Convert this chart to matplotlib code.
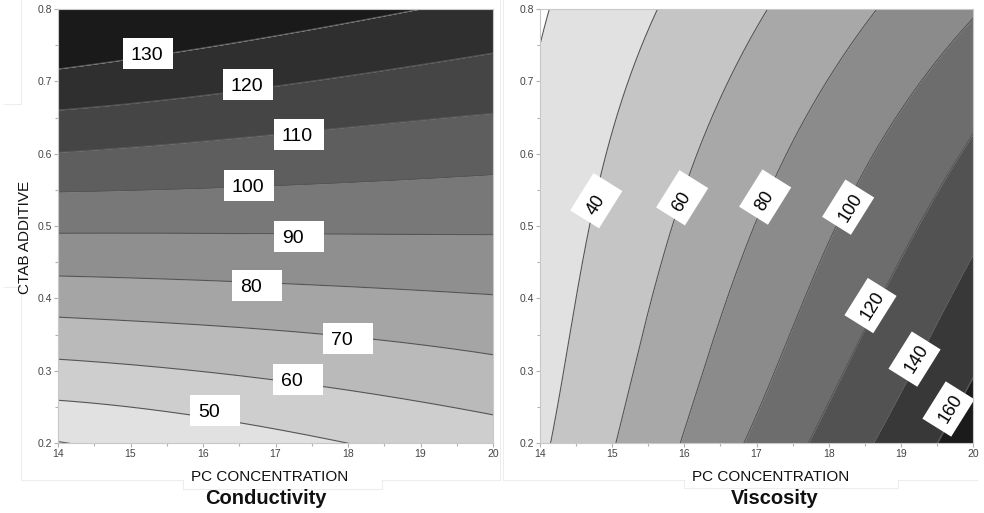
import numpy as np
import matplotlib
matplotlib.use("Agg")
import matplotlib.pyplot as plt
from matplotlib import transforms as mtransforms
from matplotlib.patches import Rectangle
from matplotlib.lines import Line2D
from matplotlib.ticker import MultipleLocator, FormatStrFormatter

plt.rcParams['font.family'] = ['Liberation Sans', 'DejaVu Sans']

# ---------------- data ----------------
# Conductivity: contour level lines, CTAB value at each PC concentration node
pc_nodes = [14, 15, 16, 17, 18, 19, 20]
cond_levels = [40, 50, 60, 70, 80, 90, 100, 110, 120, 130]
cond_40 = [0.202, 0.186, 0.168, 0.148, 0.126, 0.102, 0.076]
cond_50 = [0.259, 0.250, 0.236, 0.219, 0.200, 0.178, 0.155]
cond_60 = [0.316, 0.308, 0.299, 0.287, 0.273, 0.257, 0.239]
cond_70 = [0.374, 0.369, 0.363, 0.356, 0.347, 0.336, 0.322]
cond_80 = [0.431, 0.428, 0.425, 0.421, 0.416, 0.411, 0.405]
cond_90 = [0.490, 0.490, 0.490, 0.489, 0.489, 0.488, 0.488]
cond_100 = [0.547, 0.549, 0.552, 0.556, 0.560, 0.565, 0.571]
cond_110 = [0.602, 0.609, 0.617, 0.627, 0.637, 0.646, 0.656]
cond_120 = [0.660, 0.670, 0.680, 0.693, 0.708, 0.723, 0.739]
cond_130 = [0.717, 0.731, 0.746, 0.763, 0.781, 0.800, 0.820]
cond_lines = [cond_40, cond_50, cond_60, cond_70, cond_80, cond_90,
              cond_100, cond_110, cond_120, cond_130]
cond_label_levels = [50, 60, 70, 80, 90, 100, 110, 120, 130]

# Viscosity: contour level lines, PC concentration at each CTAB node
ctab_nodes = [0.2, 0.3, 0.4, 0.5, 0.6, 0.7, 0.8]
visc_levels = [20, 40, 60, 80, 100, 120, 140, 160]
visc_20 = [13.30, 13.38, 13.48, 13.60, 13.72, 13.86, 14.14]
visc_40 = [14.15, 14.32, 14.51, 14.68, 14.92, 15.22, 15.63]
visc_60 = [15.05, 15.30, 15.55, 15.83, 16.17, 16.62, 17.15]
visc_80 = [15.94, 16.27, 16.60, 16.96, 17.40, 18.00, 18.66]
visc_100 = [16.83, 17.25, 17.67, 18.11, 18.62, 19.28, 20.12]
visc_120 = [17.72, 18.22, 18.70, 19.26, 19.82, 20.50, 21.30]
visc_140 = [18.62, 19.15, 19.68, 20.22, 20.80, 21.50, 22.30]
visc_160 = [19.51, 20.04, 20.60, 21.20, 21.80, 22.50, 23.30]
visc_lines = [visc_20, visc_40, visc_60, visc_80, visc_100, visc_120,
              visc_140, visc_160]
visc_label_levels = [40, 60, 80, 100, 120, 140, 160]

x_ticks = [14, 15, 16, 17, 18, 19, 20]
y_ticks = [0.2, 0.3, 0.4, 0.5, 0.6, 0.7, 0.8]

# ---------------- styling ----------------
cond_colors = ['#f0f0f0', '#e1e1e1', '#cecece', '#bababa', '#a5a5a5', '#8f8f8f',
               '#787878', '#5e5e5e', '#454545', '#2f2f2f', '#1a1a1a']
visc_colors = ['#ffffff', '#e1e1e1', '#c5c5c5', '#a8a8a8', '#8b8b8b', '#6d6d6d',
               '#525252', '#383838', '#1b1b1b']
line_color = '#555555'

# label box anchor positions (layout)
cond_lab_x = [16.17, 17.31, 18.00, 16.75, 17.32, 16.63, 17.32, 16.62, 15.24]
cond_lab_y = [0.245, 0.288, 0.345, 0.418, 0.485, 0.556, 0.627, 0.695, 0.738]
visc_lab_x = [14.78, 15.97, 17.12, 18.27, 18.58, 19.19, 19.66]
visc_lab_y = [0.535, 0.539, 0.540, 0.526, 0.390, 0.316, 0.247]

W, H, DPI = 984, 513, 100
fig = plt.figure(figsize=(W / DPI, H / DPI), dpi=DPI)
fig.patch.set_facecolor('white')


def px_axes(x0, y0, x1, y1):
    return fig.add_axes([x0 / W, 1 - y1 / H, (x1 - x0) / W, (y1 - y0) / H])


axL = px_axes(58, 9, 493, 443)
axR = px_axes(540, 9, 973, 443)


def smooth(nodes, vals, fine):
    c = np.polyfit(nodes, vals, 3)
    return np.polyval(c, fine)


# ---- conductivity: bands between y(x) curves
xf = np.linspace(13.9, 20.1, 300)
curves = [smooth(pc_nodes, v, xf) for v in cond_lines]
bounds = [np.full_like(xf, -1.0)] + curves + [np.full_like(xf, 2.0)]
for i in range(len(bounds) - 1):
    axL.fill_between(xf, bounds[i], bounds[i + 1], color=cond_colors[i],
                     linewidth=0, zorder=1)
for c in curves:
    axL.plot(xf, c, color=line_color, lw=0.8, zorder=2)

# ---- viscosity: bands between x(y) curves
yf = np.linspace(0.19, 0.81, 300)
vcurves = [smooth(ctab_nodes, v, yf) for v in visc_lines]
vb = [np.full_like(yf, 10.0)] + vcurves + [np.full_like(yf, 30.0)]
for i in range(len(vb) - 1):
    axR.fill_betweenx(yf, vb[i], vb[i + 1], color=visc_colors[i],
                      linewidth=0, zorder=1)
for c in vcurves:
    axR.plot(c, yf, color=line_color, lw=0.8, zorder=2)

for ax in (axL, axR):
    ax.set_xlim(14, 20)
    ax.set_ylim(0.2, 0.8)
    ax.set_xticks(x_ticks)
    ax.set_yticks(y_ticks)
    ax.xaxis.set_minor_locator(MultipleLocator(0.5))
    ax.yaxis.set_minor_locator(MultipleLocator(0.05))
    ax.yaxis.set_major_formatter(FormatStrFormatter('%.1f'))
    ax.tick_params(which='both', direction='out', color='#b0b0b0', width=0.8,
                   labelsize=7.5, labelcolor='#444444', pad=1.5)
    ax.tick_params(which='major', length=3)
    ax.tick_params(which='minor', length=2)
    for s in ax.spines.values():
        s.set_color('#c8c8c8')
        s.set_linewidth(0.8)


def label_box(ax, x, y, text, w, h, rot, fs, pad):
    trans = (mtransforms.Affine2D().rotate_deg(rot) + fig.dpi_scale_trans +
             mtransforms.ScaledTranslation(x, y, ax.transData))
    r = Rectangle((-w / 2 / DPI, -h / 2 / DPI), w / DPI, h / DPI,
                  transform=trans, facecolor='white', edgecolor='none', zorder=5)
    ax.add_patch(r)
    off = -w / 2 + pad
    th = np.deg2rad(rot)
    ax.annotate(text, (x, y), xytext=(off * np.cos(th), off * np.sin(th)),
                textcoords='offset pixels', ha='left', va='center_baseline',
                rotation=rot, rotation_mode='anchor', fontsize=fs,
                color='black', zorder=6, annotation_clip=False)


for lv, lx, ly in zip(cond_label_levels, cond_lab_x, cond_lab_y):
    label_box(axL, lx, ly, str(lv), 50, 31, 0, 14, 8)
for lv, lx, ly in zip(visc_label_levels, visc_lab_x, visc_lab_y):
    label_box(axR, lx, ly, str(lv), 44, 34, 58, 13, 8)

# axis labels and titles
fig.text(269.5 / W, 1 - 477 / H, 'PC CONCENTRATION', ha='center', va='center',
         fontsize=11, color='#111111')
fig.text(771 / W, 1 - 477 / H, 'PC CONCENTRATION', ha='center', va='center',
         fontsize=11, color='#111111')
fig.text(265.5 / W, 1 - 498 / H, 'Conductivity', ha='center', va='center',
         fontsize=14.5, fontweight='bold', color='#111111')
fig.text(775 / W, 1 - 498 / H, 'Viscosity', ha='center', va='center',
         fontsize=14.5, fontweight='bold', color='#111111')
fig.text(25 / W, 1 - 237 / H, 'CTAB ADDITIVE', ha='center', va='center',
         rotation=90, fontsize=11, color='#111111')

# faint frame remnants around the panels
frame = [
    [(21, 0), (21, 104)], [(4, 104), (21, 104)],
    [(4, 287), (21, 287)], [(21, 287), (21, 480)],
    [(21, 480), (183, 480)], [(183, 480), (183, 489)], [(183, 489), (382, 489)],
    [(382, 489), (382, 480)], [(382, 480), (500, 480)], [(500, 0), (500, 480)],
    [(503, 0), (503, 480)], [(503, 480), (684, 480)], [(684, 480), (684, 488)],
    [(684, 488), (898, 488)], [(898, 488), (898, 480)], [(898, 480), (977, 480)],
]
for (xa, ya), (xb, yb) in frame:
    fig.add_artist(Line2D([xa / W, xb / W], [1 - ya / H, 1 - yb / H],
                          transform=fig.transFigure, color='#ededed', lw=0.8))

fig.savefig('out.png', dpi=DPI)
